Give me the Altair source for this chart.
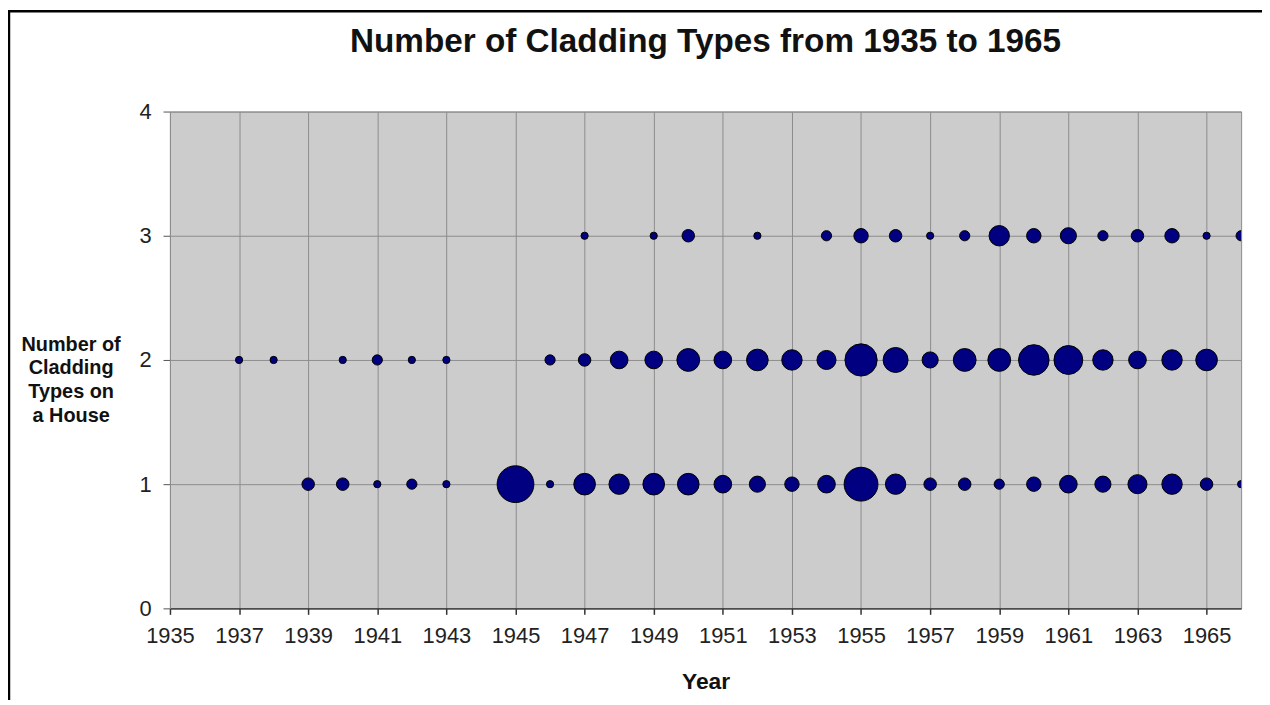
import altair as alt
import pandas as pd

# Row y = 1
years_1 = [1939, 1940, 1941, 1942, 1943, 1945, 1946, 1947, 1948, 1949, 1950, 1951, 1952,
           1953, 1954, 1955, 1956, 1957, 1958, 1959, 1960, 1961, 1962, 1963, 1964, 1965, 1966]
counts_1 = [3, 3, 1, 2, 1, 26, 1, 9, 8, 9, 9, 6, 5,
            4, 6, 22, 8, 3, 3, 2, 4, 6, 5, 7, 8, 3, 1]

# Row y = 2
years_2 = [1937, 1938, 1940, 1941, 1942, 1943, 1946, 1947, 1948, 1949, 1950, 1951, 1952,
           1953, 1954, 1955, 1956, 1957, 1958, 1959, 1960, 1961, 1962, 1963, 1964, 1965]
counts_2 = [1, 1, 1, 2, 1, 1, 2, 3, 6, 6, 10, 6, 9,
            8, 7, 20, 12, 5, 10, 10, 18, 16, 8, 6, 8, 9]

# Row y = 3
years_3 = [1947, 1949, 1950, 1952, 1954, 1955, 1956, 1957, 1958, 1959, 1960, 1961, 1962,
           1963, 1964, 1965, 1966]
counts_3 = [1, 1, 3, 1, 2, 4, 3, 1, 2, 8, 4, 5, 2, 3, 4, 1, 2]

x_ticks = list(range(1935, 1966, 2))
y_ticks = [0, 1, 2, 3, 4]

rows = []
for level, ys, cs in [(1, years_1, counts_1), (2, years_2, counts_2), (3, years_3, counts_3)]:
    for yr, c in zip(ys, cs):
        rows.append({"Year": yr, "Types": level, "Houses": c})
df = pd.DataFrame(rows)

FONT = "Liberation Sans"

bubbles = alt.Chart(df).mark_circle(
    color="#000080", stroke="#000000", strokeWidth=1, opacity=1, clip=True
).encode(
    x=alt.X("Year:Q",
            scale=alt.Scale(domain=[1935, 1966], nice=False, zero=False),
            axis=alt.Axis(values=x_ticks, format="d", title="Year",
                          grid=True, gridColor="#8c8c8c", gridWidth=1,
                          domainColor="#333333", domainWidth=1.5,
                          tickColor="#333333", tickSize=6, tickWidth=1.5,
                          labelFont=FONT, labelFontSize=22, labelColor="#222222",
                          labelPadding=11, labelFlush=False,
                          titleFont=FONT, titleFontSize=23, titleFontWeight="bold",
                          titleColor="#111111", titleY=74, titleBaseline="middle")),
    y=alt.Y("Types:Q",
            scale=alt.Scale(domain=[0, 4], nice=False),
            axis=alt.Axis(values=y_ticks, format="d",
                          title=["Number of", "Cladding", "Types on", "a House"],
                          grid=True, gridColor="#8c8c8c", gridWidth=1,
                          domainColor="#8c8c8c", domainWidth=1,
                          tickColor="#555555", tickSize=7,
                          labelFont=FONT, labelFontSize=22, labelColor="#222222",
                          labelPadding=12,
                          titleFont=FONT, titleFontSize=20, titleFontWeight="bold",
                          titleColor="#111111", titleAngle=0, titleAlign="center",
                          titleBaseline="middle", titleX=-100, titleY=234,
                          titleLineHeight=24)),
    size=alt.Size("Houses:Q", scale=alt.Scale(domain=[0, 26], range=[0, 1369]),
                  legend=None),
)

one = pd.DataFrame({"k": [0]})
frame_top = alt.Chart(one).mark_rule(color="#000000", strokeWidth=2.5).encode(
    x=alt.value(-163), x2=alt.value(1110), y=alt.value(-101))
frame_left = alt.Chart(one).mark_rule(color="#000000", strokeWidth=2.5).encode(
    x=alt.value(-162), y=alt.value(-102), y2=alt.value(600))

chart = alt.layer(bubbles, frame_top, frame_left).properties(
    width=1078,
    height=500,
    title=alt.TitleParams("Number of Cladding Types from 1935 to 1965",
                          font=FONT, fontSize=33.5, fontWeight="bold",
                          color="#111111", anchor="middle", offset=-51),
    autosize=alt.AutoSizeParams(type="none"),
    padding={"left": 163, "top": 102, "right": 21, "bottom": 90},
).configure(background="#ffffff").configure_view(
    fill="#cccccc", stroke="#8c8c8c", strokeWidth=1
)

chart.save("out.html", embed_options={"renderer": "svg", "actions": False})
